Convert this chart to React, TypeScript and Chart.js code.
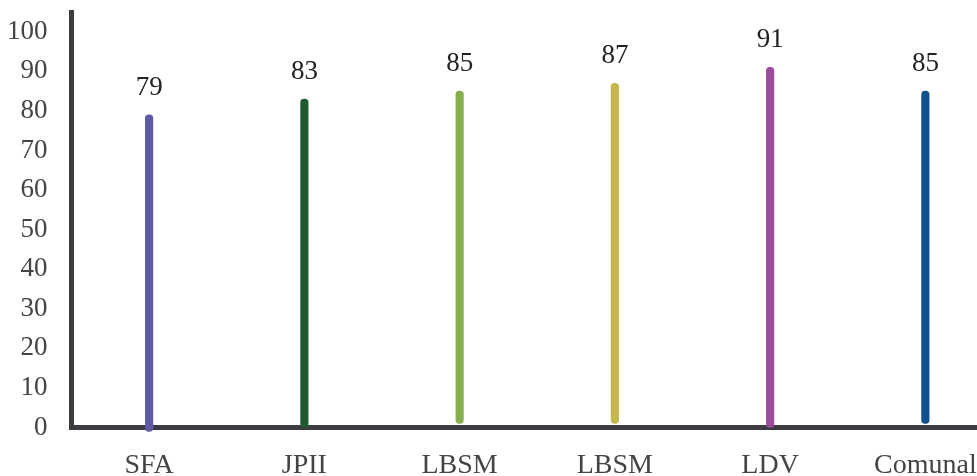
import React, { useEffect, useRef } from "react";
import { Chart, registerables } from "chart.js";

Chart.register(...registerables);

const categories = ["SFA", "JPII", "LBSM", "LBSM", "LDV", "Comunal"];
const values = [79, 83, 85, 87, 91, 85];
const bases = [-1, 0, 1, 1, 0, 1];
const barColors = ["#5f5aa6", "#1d5a2f", "#86b04e", "#c3b74b", "#9a4c9c", "#11528e"];
const yTicks = [0, 10, 20, 30, 40, 50, 60, 70, 80, 90, 100];

const valueLabels = {
  id: "valueLabels",
  afterDatasetsDraw(chart: any) {
    const ctx = chart.ctx;
    const meta = chart.getDatasetMeta(0);
    ctx.save();
    ctx.font = "27px 'Liberation Serif'";
    ctx.fillStyle = "#222222";
    ctx.textAlign = "center";
    ctx.textBaseline = "alphabetic";
    meta.data.forEach((bar: any, i: number) => {
      ctx.fillText(String(values[i]), bar.x, bar.y - 20);
    });
    ctx.restore();
  },
};

export default function App() {
  const ref = useRef<HTMLCanvasElement | null>(null);
  useEffect(() => {
    if (!ref.current) return;
    const chart = new Chart(ref.current, {
      type: "bar",
      data: {
        labels: categories,
        datasets: [
          {
            data: values.map((v, i) => [bases[i], v]) as any,
            backgroundColor: barColors,
            barThickness: 7.5,
            borderRadius: 4,
            borderSkipped: false,
            clip: false as any,
          },
        ],
      },
      options: {
        responsive: false,
        animation: false,
        layout: { padding: { top: 12, left: 0, right: 7, bottom: 0 } },
        plugins: { legend: { display: false }, tooltip: { enabled: false } },
        scales: {
          x: {
            z: 1,
            grid: { display: false, drawTicks: false },
            border: { display: true, color: "#3c3c40", width: 5 },
            ticks: {
              padding: 21,
              color: "#444444",
              font: { family: "'Liberation Serif'", size: 28 },
              maxRotation: 0,
              autoSkip: false,
            },
            afterFit: (s: any) => {
              s.height = 48.5;
              s.paddingLeft = 0;
              s.paddingRight = 0;
            },
          },
          y: {
            min: 0,
            max: 105,
            grid: { display: false, drawTicks: false },
            border: { display: true, color: "#3c3c40", width: 5 },
            ticks: {
              padding: 24,
              color: "#444444",
              font: { family: "'Liberation Serif'", size: 27 },
            },
            afterBuildTicks: (s: any) => {
              s.ticks = yTicks.map((v) => ({ value: v }));
            },
            afterFit: (s: any) => {
              s.width = 71.5;
              s.paddingTop = 0;
              s.paddingBottom = 0;
            },
          },
        },
      },
      plugins: [valueLabels],
    });
    return () => chart.destroy();
  }, []);
  return (
    <div
      style={{
        position: "fixed",
        left: 0,
        top: 0,
        width: 977,
        height: 476,
        overflow: "hidden",
        background: "#ffffff",
      }}
    >
      <canvas ref={ref} width={1010} height={476} style={{ width: 1010, height: 476, display: "block" }} />
    </div>
  );
}
